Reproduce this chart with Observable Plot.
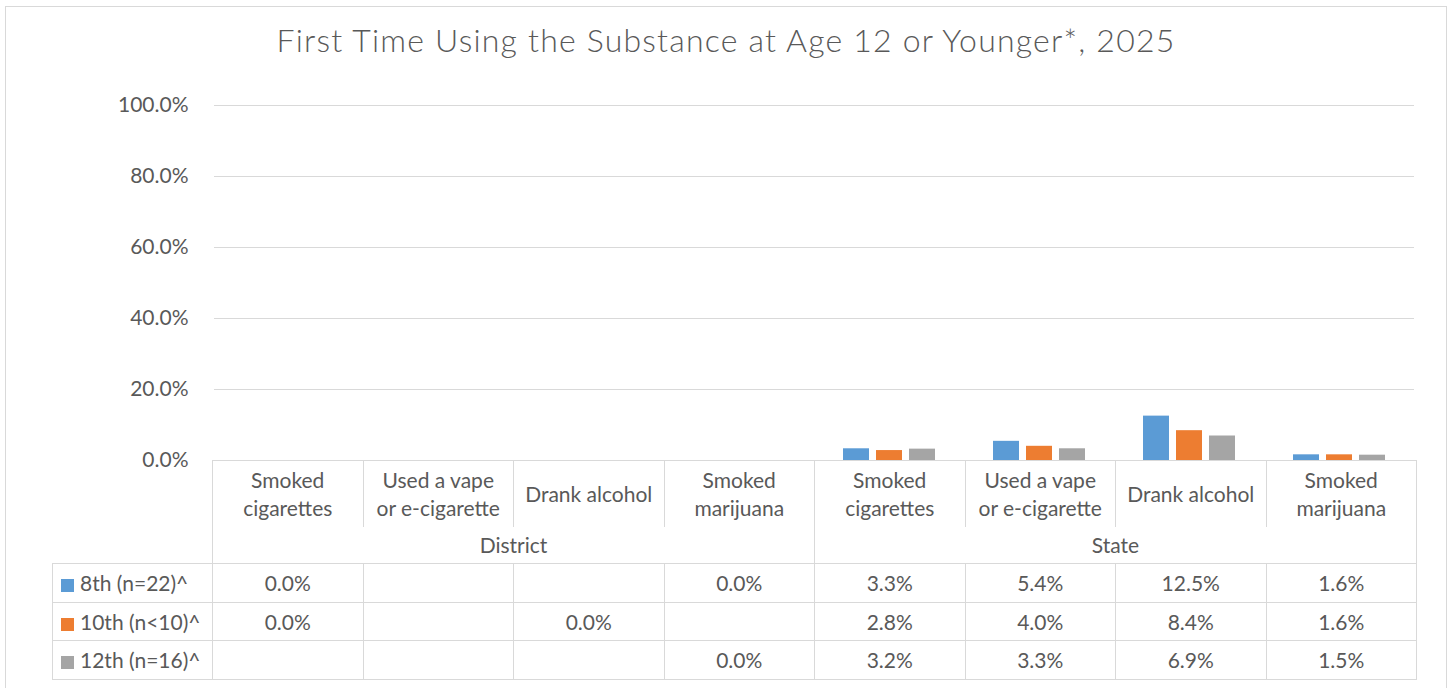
<!DOCTYPE html>
<html>
<head>
<meta charset="utf-8">
<script src="https://cdn.jsdelivr.net/npm/d3@7"></script>
<script src="https://cdn.jsdelivr.net/npm/@observablehq/plot@0.6"></script>
<style>
  html, body { margin: 0; padding: 0; background: #ffffff; overflow: hidden; }
  body { width: 1452px; height: 688px; position: relative; font-family: Lato, "Open Sans", sans-serif; color: #595959; }
  #frame { position: absolute; left: 5px; top: 6px; width: 1442px; height: 700px; border: 1px solid #d9d9d9; box-sizing: border-box; }
  #title { position: absolute; left: 0; top: 24px; width: 1452px; text-align: center; font-size: 32px; letter-spacing: 1.2px; line-height: 1; font-weight: 300; color: #595959; white-space: nowrap; }
  #plot { position: absolute; left: 0; top: 80px; }
  #table { position: absolute; left: 52px; top: 460px; border-collapse: collapse; table-layout: fixed; font-size: 21px; color: #595959; }
  #table td { padding: 0; text-align: center; vertical-align: middle; box-sizing: border-box; }
  #table tr.h1 td.cat { border-left: 1px solid #d9d9d9; border-right: 1px solid #d9d9d9; border-top: 1px solid #d9d9d9; height: 66px; white-space: pre-line; line-height: 28px; }
  #table tr.h2 td.reg { border-left: 1px solid #d9d9d9; border-right: 1px solid #d9d9d9; border-bottom: 1px solid #d9d9d9; height: 37px; }
  #table tr.data td { border: 1px solid #d9d9d9; height: 38.5px; }
  #table tr.data td.leg { text-align: left; padding-left: 8px; white-space: nowrap; }
  .sw { display: inline-block; width: 13px; height: 13px; margin-right: 6px; vertical-align: -1px; }
</style>
</head>
<body>
<div id="frame"></div>
<div id="title"></div>
<div id="plot"></div>
<table id="table"></table>
<script>
// ---- data ----
const titleText = "First Time Using the Substance at Age 12 or Younger*, 2025";
const regions = ["District", "State"];
const categories = ["Smoked cigarettes", "Used a vape or e-cigarette", "Drank alcohol", "Smoked marijuana"];
const categoryLabels = ["Smoked\ncigarettes", "Used a vape\nor e-cigarette", "Drank alcohol", "Smoked\nmarijuana"];
const grades = ["8th (n=22)^", "10th (n<10)^", "12th (n=16)^"];
const colors = ["#5b9bd5", "#ed7d31", "#a5a5a5"];
const yTicks = [0, 20, 40, 60, 80, 100];

// values in percent, null = no data shown
const district8th  = [0.0, null, null, 0.0];
const district10th = [0.0, null, 0.0, null];
const district12th = [null, null, null, 0.0];
const state8th  = [3.3, 5.4, 12.5, 1.6];
const state10th = [2.8, 4.0, 8.4, 1.6];
const state12th = [3.2, 3.3, 6.9, 1.5];

const districtByGrade = [district8th, district10th, district12th];
const stateByGrade = [state8th, state10th, state12th];

// ---- build rows ----
const keys = [];
regions.forEach(r => categories.forEach(c => keys.push(r + "|" + c)));
const rows = [];
grades.forEach((g, gi) => {
  categories.forEach((c, ci) => {
    rows.push({key: "District|" + c, grade: g, value: districtByGrade[gi][ci]});
    rows.push({key: "State|" + c, grade: g, value: stateByGrade[gi][ci]});
  });
});

document.getElementById("title").textContent = titleText;

const fmt = d => d.toFixed(1) + "%";

const chart = Plot.plot({
  width: 1452,
  height: 395,
  marginTop: 25,
  marginBottom: 15,
  marginLeft: 212,
  marginRight: 36,
  style: {fontFamily: "Lato, 'Open Sans', sans-serif", fontSize: "21px", color: "#595959", background: "transparent", overflow: "visible"},
  fx: {domain: keys, padding: 0, axis: null, label: null},
  x: {domain: grades, paddingInner: 0.224, paddingOuter: 0.858, axis: null, label: null},
  y: {domain: [0, 100], axis: null, label: null},
  color: {domain: grades, range: colors},
  marks: [
    Plot.ruleY(yTicks, {stroke: "#d9d9d9", strokeWidth: 1, strokeOpacity: 1}),
    Plot.barY(rows, {fx: "key", x: "grade", y1: 0, y2: "value", fill: "grade"}),
    Plot.axisY({ticks: yTicks, tickFormat: fmt, tickSize: 0, tickPadding: 26, label: null, facetAnchor: "left", fontSize: 21, fill: "#595959"})
  ]
});
document.getElementById("plot").appendChild(chart);

// ---- data table (legend + values) ----
const table = document.getElementById("table");
const colgroup = document.createElement("colgroup");
const c0 = document.createElement("col"); c0.style.width = "160px"; colgroup.appendChild(c0);
keys.forEach(() => { const c = document.createElement("col"); c.style.width = "150.5px"; colgroup.appendChild(c); });
table.appendChild(colgroup);
table.style.width = (160 + 150.5 * keys.length) + "px";

const h1 = document.createElement("tr"); h1.className = "h1";
h1.appendChild(document.createElement("td"));
regions.forEach(() => categoryLabels.forEach(lbl => {
  const td = document.createElement("td"); td.className = "cat"; td.textContent = lbl; h1.appendChild(td);
}));
table.appendChild(h1);

const h2 = document.createElement("tr"); h2.className = "h2";
h2.appendChild(document.createElement("td"));
regions.forEach(r => {
  const td = document.createElement("td"); td.className = "reg"; td.colSpan = categories.length; td.textContent = r; h2.appendChild(td);
});
table.appendChild(h2);

grades.forEach((g, gi) => {
  const tr = document.createElement("tr"); tr.className = "data";
  const leg = document.createElement("td"); leg.className = "leg";
  const sw = document.createElement("span"); sw.className = "sw"; sw.style.background = colors[gi];
  leg.appendChild(sw); leg.appendChild(document.createTextNode(g));
  tr.appendChild(leg);
  [districtByGrade[gi], stateByGrade[gi]].forEach(arr => arr.forEach(v => {
    const td = document.createElement("td"); td.textContent = v == null ? "" : fmt(v); tr.appendChild(td);
  }));
  table.appendChild(tr);
});
</script>
</body>
</html>
